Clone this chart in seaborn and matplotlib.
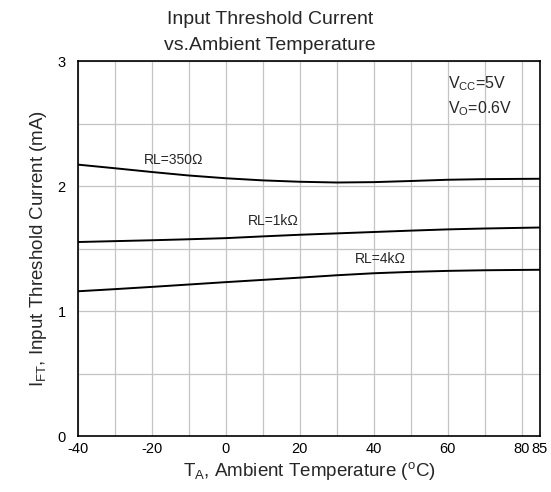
import pandas as pd
import seaborn as sns
import matplotlib.pyplot as plt

# Curve data
temps = [-40, -30, -20, -10, 0, 10, 20, 30, 40, 50, 60, 70, 85]
i_350 = [2.171, 2.142, 2.112, 2.084, 2.062, 2.045, 2.034, 2.028, 2.031, 2.040, 2.050, 2.055, 2.058]
i_1k = [1.552, 1.559, 1.566, 1.574, 1.583, 1.597, 1.610, 1.621, 1.632, 1.643, 1.653, 1.660, 1.668]
i_4k = [1.158, 1.175, 1.193, 1.212, 1.231, 1.249, 1.267, 1.286, 1.302, 1.313, 1.321, 1.326, 1.330]
series_names = ["RL=350\u03a9", "RL=1k\u03a9", "RL=4k\u03a9"]

x_ticks = [-40, -20, 0, 20, 40, 60, 80, 85]
y_ticks = [0, 1, 2, 3]

sns.set_style("white")
plt.rcParams['font.family'] = ['Liberation Sans', 'DejaVu Sans']
plt.rcParams['mathtext.fontset'] = 'custom'
plt.rcParams['mathtext.rm'] = 'Liberation Sans'
plt.rcParams['mathtext.it'] = 'Liberation Sans'

df = pd.DataFrame({
    "temp": temps * 3,
    "current": i_350 + i_1k + i_4k,
    "RL": [series_names[0]] * len(temps) + [series_names[1]] * len(temps) + [series_names[2]] * len(temps),
})

fig = plt.figure(figsize=(5.51, 4.92), dpi=100)
ax = fig.add_axes([0.1416, 0.1138, 0.8384, 0.7622])

sns.lineplot(data=df, x="temp", y="current", hue="RL", palette=["black"] * 3,
             estimator=None, legend=False, linewidth=1.4, ax=ax)

ax.set_xlim(-40, 85)
ax.set_ylim(0, 3)
ax.set_xticks(x_ticks)
ax.set_xticklabels([str(t) for t in x_ticks])
ax.set_xticks([-30, -10, 10, 30, 50, 70], minor=True)
ax.set_yticks(y_ticks)
ax.set_yticks([0.5, 1.5, 2.5], minor=True)
ax.grid(True, which="both", color="#c4c4c4", linewidth=0.9)
ax.tick_params(which="both", length=0, labelsize=10.5, colors="black")
ax.tick_params(axis="x", pad=4)
ax.tick_params(axis="y", pad=9)
for s in ax.spines.values():
    s.set_color("black")
    s.set_linewidth(1.2)

ax.set_xlabel(r"T$_{\mathregular{A}}$, Ambient Temperature ($^{\mathregular{o}}$C)", fontsize=13.5, labelpad=3)
ax.set_ylabel(r"I$_{\mathregular{FT}}$, Input Threshold Current (mA)", fontsize=13.5, labelpad=6)

fig.text(0.49, 0.96, "Input Threshold Current", ha="center", va="center", fontsize=14)
fig.text(0.49, 0.907, "vs.Ambient Temperature", ha="center", va="center", fontsize=14)

ax.text(-14.1, 2.21, series_names[0], ha="center", va="center", fontsize=10)
ax.text(12.8, 1.72, series_names[1], ha="center", va="center", fontsize=10)
ax.text(41.7, 1.42, series_names[2], ha="center", va="center", fontsize=10)

ax.text(60, 2.82, r"V$_{\mathregular{CC}}$=5V", ha="left", va="center", fontsize=11.5)
ax.text(60, 2.62, r"V$_{\mathregular{O}}$=0.6V", ha="left", va="center", fontsize=11.5)

fig.savefig("out.png", dpi=100)
